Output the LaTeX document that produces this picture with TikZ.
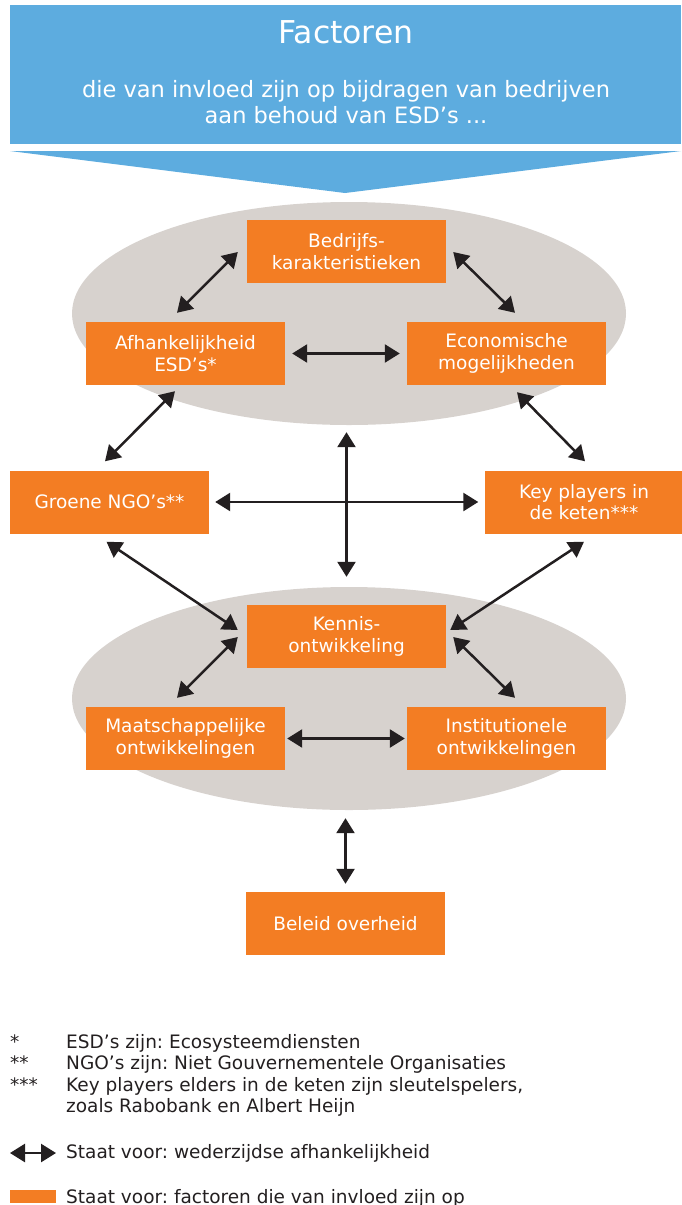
\documentclass[tikz,border=0pt]{standalone}
\usepackage{fontspec}
\setmainfont{DejaVu Sans}
\usetikzlibrary{arrows.meta,shapes.geometric,calc}
\definecolor{esdblue}{RGB}{93,172,223}
\definecolor{factororange}{RGB}{243,125,35}
\definecolor{cloudgrey}{RGB}{215,210,206}
\definecolor{arrowblack}{RGB}{35,31,32}
\frenchspacing
\begin{document}
\begin{tikzpicture}[x=1pt,y=-1pt,
    factor/.style={fill=factororange,text=white,minimum width=199,minimum height=63,
        inner sep=0,align=center,font=\fontsize{18.5}{21.5}\selectfont},
    cloud/.style={ellipse,fill=cloudgrey,minimum width=554,minimum height=223,inner sep=0},
    rel/.style={{Triangle[length=15pt,width=18pt]}-{Triangle[length=15pt,width=18pt]},
        line width=2.5pt,draw=arrowblack},
    note/.style={inner sep=0,text=arrowblack,font=\fontsize{18.5}{21.5}\selectfont}]
    \useasboundingbox (0,0) rectangle (681,1205);

    %header and the big arrow under it
    \fill[esdblue] (10,5) rectangle (681,144);
    \fill[esdblue] (10,151) -- (681,151) -- (345,193) -- cycle;
    \node[text=white,inner sep=0,anchor=base,font=\fontsize{31.5}{36}\selectfont]
        (title) at (346,43) {Factoren};
    \node[text=white,inner sep=0,anchor=north,align=center,font=\fontsize{22.5}{26}\selectfont]
        (subtitle) at (346,80) {die van invloed zijn op bijdragen van bedrijven\\aan behoud van ESD’s ...};

    %the two grey clouds
    \node[cloud] (upper) at (349,313.5) {};
    \node[cloud] (lower) at (349,698.5) {};

    %the factors
    \node[factor] (bedrijf) at (346.5,251.5) {Bedrijfs-\\karakteristieken};
    \node[factor] (afhank)  at (185.5,353.5) {Afhankelijkheid\\ESD’s*};
    \node[factor] (econ)    at (506.5,353.5) {Economische\\mogelijkheden};
    \node[factor] (groene)  at (109.5,502)   {Groene NGO’s**};
    \node[factor] (keyp)    at (584,502)     {Key players in\\de keten***};
    \node[factor] (kennis)  at (346.5,636.5) {Kennis-\\ontwikkeling};
    \node[factor] (maats)   at (185.5,738.5) {Maatschappelijke\\ontwikkelingen};
    \node[factor] (inst)    at (506.5,738.5) {Institutionele\\ontwikkelingen};
    \node[factor] (beleid)  at (345.5,923.5) {Beleid overheid};

    %upper cloud
    \draw[rel] ($(bedrijf.west)+(-9,0.5)$) -- ($(afhank.north)+(-8.5,-9)$);
    \draw[rel] ($(bedrijf.east)+(7,0.5)$)  -- ($(econ.north)+(8.5,-9)$);
    \draw[rel,shorten <=7pt,shorten >=7pt] (afhank.east) -- (econ.west);
    % middle row
    \draw[rel] ($(afhank.south)+(-10.5,6)$) -- ($(groene.north)+(-4.5,-9)$);
    \draw[rel] ($(econ.south)+(10.5,7)$)    -- ($(keyp.north)+(1,-9)$);
    \draw[rel,shorten <=7pt,shorten >=10pt] (upper.south -| bedrijf.south) -- (lower.north -| kennis.north);
    \draw[rel,shorten <=6pt,shorten >=6pt] (groene.east) -- (keyp.west);
    \draw[rel] ($(groene.south)+(-3,8)$) -- ($(kennis.west)+(-9,-6.5)$);
    \draw[rel] ($(keyp.south)+(0,8)$)    -- ($(kennis.east)+(4,-6.5)$);
    %lower cloud
    \draw[rel] ($(kennis.west)+(-9,0.5)$) -- ($(maats.north)+(-8.5,-9)$);
    \draw[rel] ($(kennis.east)+(7,0.5)$)  -- ($(inst.north)+(8.5,-9)$);
    \draw[rel,shorten <=2pt,shorten >=2pt] (maats.east) -- (inst.west);
    \draw[rel,shorten <=8pt,shorten >=8pt] (lower.south -| beleid.north) -- (beleid.north);

    %legend
    \node[note,anchor=base west] (notes) at (10,1048) {%
        \begin{tabular}[t]{@{}p{56pt}@{}l@{}}
        {*}   & ESD’s zijn: Ecosysteemdiensten\\
        {**}  & NGO’s zijn: Niet Gouvernementele Organisaties\\
        {***} & Key players elders in de keten zijn sleutelspelers,\\
              & zoals Rabobank en Albert Heijn
        \end{tabular}};
    \coordinate (lgleft) at (10,1153);
    \coordinate (lgright) at (56,1153);
    \draw[rel] (lgleft) -- (lgright);
    \node[note,anchor=base west] (lgrel) at (66,1158) {Staat voor: wederzijdse afhankelijkheid};
    \node[fill=factororange,minimum width=46,minimum height=13,inner sep=0] (lgbar) at (33,1196.5) {};
    \node[note,anchor=base west] (lgfactor) at (66,1203) {Staat voor: factoren die van invloed zijn op};
\end{tikzpicture}
\end{document}
